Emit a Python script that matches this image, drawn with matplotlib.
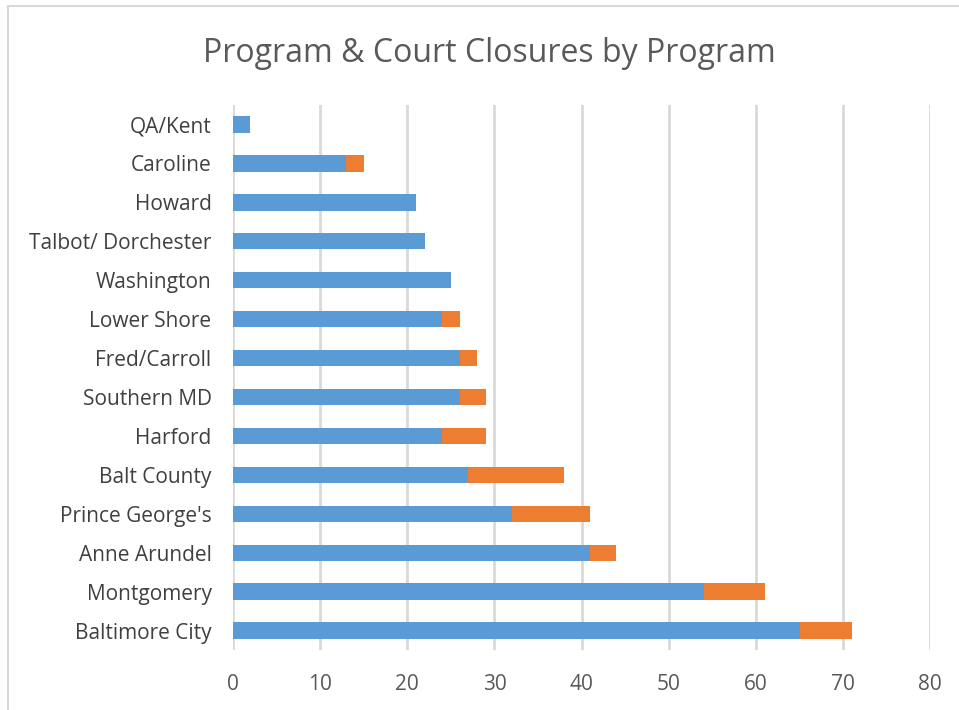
import matplotlib
matplotlib.use('Agg')
import matplotlib.pyplot as plt
import numpy as np

plt.rcParams['font.family'] = ['Open Sans', 'DejaVu Sans']

# data, bottom to top
programs = ['Baltimore City', 'Montgomery', 'Anne Arundel', "Prince George's", 'Balt County',
            'Harford', 'Southern MD', 'Fred/Carroll', 'Lower Shore', 'Washington',
            'Talbot/ Dorchester', 'Howard', 'Caroline', 'QA/Kent']
program_closures = [65, 54, 41, 32, 27, 24, 26, 26, 24, 25, 22, 21, 13, 2]
court_closures = [6, 7, 3, 9, 11, 5, 3, 2, 2, 0, 0, 0, 2, 0]
xticks = [0, 10, 20, 30, 40, 50, 60, 70, 80]

blue = '#5b9bd5'
orange = '#ed7d31'
txt = '#595959'

fig = plt.figure(figsize=(9.59, 7.10), dpi=100)
ax = fig.add_axes([0.243, 0.0845, 0.727, 0.7675])

y = np.arange(len(programs))
ax.barh(y, program_closures, height=0.42, color=blue, zorder=3)
ax.barh(y, court_closures, left=program_closures, height=0.42, color=orange, zorder=3)

ax.set_xlim(0, 80)
ax.set_ylim(-0.5, len(programs) - 0.5)
ax.set_xticks(xticks)
ax.set_yticks(y)
ax.set_yticklabels(programs)
ax.tick_params(axis='x', length=0, labelsize=15, labelcolor=txt, pad=17)
ax.tick_params(axis='y', length=0, labelsize=15, labelcolor='#404040', pad=15.5)
ax.grid(axis='x', color='#d9d9d9', linewidth=2, zorder=0)
for s in ax.spines.values():
    s.set_visible(False)

fig.text(0.51, 0.924, 'Program & Court Closures by Program', ha='center', va='center',
         fontsize=23, color=txt)

# outer chart border (cropped at right and bottom)
fig.patches.extend([plt.Rectangle((0.008, -0.05), 1.1, 1.041, fill=False,
                                  edgecolor='#d9d9d9', linewidth=1.5,
                                  transform=fig.transFigure, figure=fig)])

fig.savefig('out.png', dpi=100)
